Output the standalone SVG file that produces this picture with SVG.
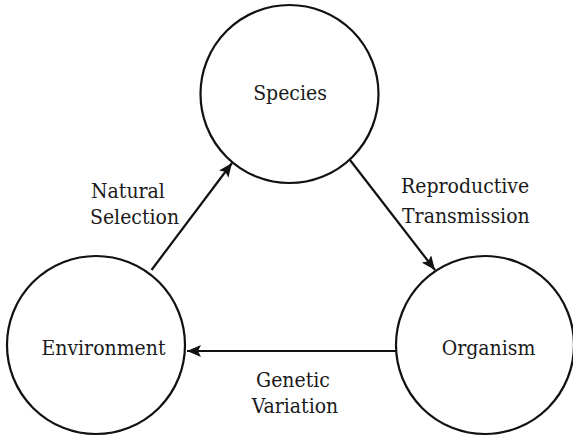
<svg xmlns="http://www.w3.org/2000/svg" width="573" height="438" viewBox="0 0 573 438">
<style>
.node circle{fill:#fff;stroke:#111;stroke-width:2.2}
text{font-family:'DejaVu Serif Condensed','DejaVu Serif',serif;font-stretch:condensed;font-size:21px;fill:#1a1a1a}
.c{text-anchor:middle}
.edge{stroke:#111;stroke-width:2.2;fill:none;marker-end:url(#ah)}
</style>
<defs>
<marker id="ah" markerUnits="userSpaceOnUse" markerWidth="16" markerHeight="12" refX="14" refY="6" orient="auto">
<path d="M0,0 L14,6 L0,12 L3,6 Z" fill="#111"/>
</marker>
</defs>
<rect width="573" height="438" fill="#fff"/>
<g id="species" class="node"><circle cx="289.5" cy="94" r="89"/><text class="c" x="290" y="100">Species</text></g>
<g id="environment" class="node"><circle cx="96" cy="345" r="89"/><text class="c" x="103.5" y="355">Environment</text></g>
<g id="organism" class="node"><circle cx="485" cy="345" r="89"/><text class="c" x="488.5" y="355">Organism</text></g>
<g id="connectors">
<line class="edge" x1="151.5" y1="270" x2="232" y2="163"/>
<line class="edge" x1="350" y1="160" x2="435" y2="270"/>
<line class="edge" x1="396" y1="351" x2="187" y2="351"/>
<text x="91" y="198">Natural</text>
<text x="90" y="224">Selection</text>
<text x="401" y="193">Reproductive</text>
<text x="402" y="223">Transmission</text>
<text class="c" x="293" y="387">Genetic</text>
<text class="c" x="295" y="413">Variation</text>
</g>
</svg>
